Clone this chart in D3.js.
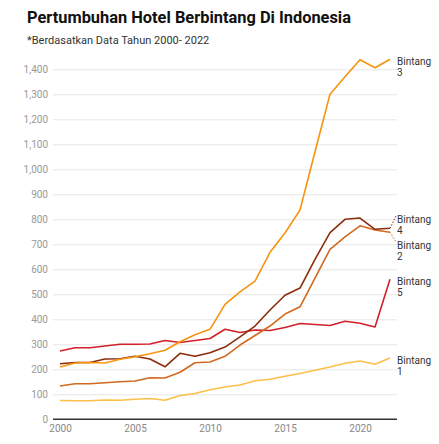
<!DOCTYPE html>
<html>
<head>
<meta charset="utf-8">
<script src="https://cdn.jsdelivr.net/npm/d3@7"></script>
<style>
  body { margin: 0; background: #fff; font-family: Roboto, sans-serif; }
</style>
</head>
<body>
<div id="chart"></div>
<script>
const years = d3.range(2000, 2023);
const bintang1 = [75, 74, 74, 77, 76, 80, 83, 76, 95, 103, 118, 129, 137, 154, 160, 172, 183, 196, 209, 224, 233, 220, 245];
const bintang2 = [133, 142, 142, 146, 150, 153, 166, 165, 188, 226, 229, 252, 297, 335, 373, 421, 450, 565, 680, 730, 774, 757, 748];
const bintang3 = [209, 225, 227, 225, 240, 250, 262, 276, 310, 338, 360, 460, 510, 553, 668, 745, 837, 1070, 1300, 1370, 1438, 1406, 1440];
const bintang4 = [222, 227, 227, 241, 242, 252, 241, 210, 264, 252, 266, 289, 330, 373, 437, 496, 525, 640, 747, 800, 805, 760, 764];
const bintang5 = [273, 286, 286, 293, 300, 300, 301, 315, 307, 315, 323, 360, 347, 357, 355, 367, 383, 379, 375, 392, 384, 369, 560];
const yTicks = [0, 100, 200, 300, 400, 500, 600, 700, 800, 900, 1000, 1100, 1200, 1300, 1400];
const xTicks = [2000, 2005, 2010, 2015, 2020];

const series = [
  { name: "Bintang 1", values: bintang1, color: "#fdbf47", labelY: 360, leader: false },
  { name: "Bintang 5", values: bintang5, color: "#d32029", labelY: 281, leader: false },
  { name: "Bintang 2", values: bintang2, color: "#d2691e", labelY: 245, leader: true },
  { name: "Bintang 4", values: bintang4, color: "#8b2c0a", labelY: 219, leader: true },
  { name: "Bintang 3", values: bintang3, color: "#f7940f", labelY: 61, leader: false }
];

const W = 439, H = 444;
const margin = { top: 0, right: 42, bottom: 25, left: 53 };

const svg = d3.select('#chart')
  .append('svg')
  .attr('width', W)
  .attr('height', H);

const x = d3.scaleLinear().domain([2000, 2022]).range([60, 390]);
const y = d3.scaleLinear().domain([0, 1400]).range([419.3, 69.3]);

// title
svg.append('text')
  .attr('x', 27).attr('y', 23)
  .style('font-size', '16.4px').style('font-weight', 'bold').style('fill', '#111')
  .text('Pertumbuhan Hotel Berbintang Di Indonesia');
svg.append('text')
  .attr('x', 27).attr('y', 44)
  .style('font-size', '11px').style('fill', '#333')
  .text('*Berdasatkan Data Tahun 2000- 2022');

// grid + y labels
const yAxis = svg.append('g')
  .attr('transform', `translate(${margin.left},0)`)
  .call(d3.axisLeft(y).tickValues(yTicks).tickSize(-(W - margin.right - margin.left)).tickFormat(d3.format(',')).tickPadding(5));
yAxis.select('.domain').remove();
yAxis.selectAll('.tick line').attr('stroke', d => d === 0 ? 'none' : '#e6e6e6');
yAxis.selectAll('.tick text').attr('fill', '#999').style('font-size', '10px').style('font-family', 'Roboto, sans-serif');

// x axis
const xAxis = svg.append('g')
  .attr('transform', `translate(0,${y(0)})`)
  .call(d3.axisBottom(x).tickValues(xTicks).tickFormat(d3.format('d')).tickSize(0).tickPadding(6));
xAxis.select('.domain').attr('d', `M${margin.left},0H${W - margin.right}`).attr('stroke', '#333').attr('stroke-width', 1.5);
xAxis.selectAll('.tick text').attr('fill', '#888').style('font-size', '10px').style('font-family', 'Roboto, sans-serif');

// lines
const line = d3.line()
  .x((d, i) => x(years[i]))
  .y(d => y(d));

series.forEach(s => {
  svg.append('path')
    .datum(s.values)
    .attr('fill', 'none')
    .attr('stroke', s.color)
    .attr('stroke-width', 1.6)
    .attr('stroke-linejoin', 'round')
    .attr('d', line);

  const endY = y(s.values[s.values.length - 1]);
  if (s.leader) {
    svg.append('line')
      .attr('x1', x(2022)).attr('y1', endY)
      .attr('x2', 396).attr('y2', s.labelY - 3)
      .attr('stroke', s.color).attr('stroke-width', 1)
      .attr('stroke-dasharray', '1.5,1.5');
  }
  const parts = s.name.split(' ');
  const t = svg.append('text')
    .attr('x', 397).attr('y', s.labelY + 3.5)
    .style('font-size', '10px').style('fill', '#333');
  t.append('tspan').attr('x', 397).text(parts[0]);
  t.append('tspan').attr('x', 397).attr('dy', 11.5).text(parts[1]);
});
</script>
</body>
</html>
